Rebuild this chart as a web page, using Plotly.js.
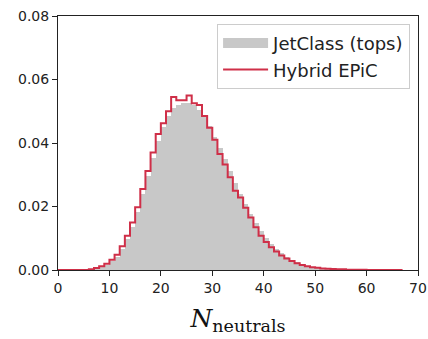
<!DOCTYPE html>
<html>
<head>
<meta charset="utf-8">
<script src="https://cdn.plot.ly/plotly-3.0.1.min.js"></script>
<style>html,body{margin:0;padding:0;background:#fff;}#chart{width:428px;height:339px;}</style>
</head>
<body>
<div id="chart"></div>
<script>
// Histogram bins: [k, k+1) for k = 0..66 (N_neutrals), densities
const binStart = 0;
const binWidth = 1;
const jetClassTops = [
  0, 0, 0, 0, 0, 0, 0.0001, 0.0004, 0.0009, 0.0016,
  0.0027, 0.0042, 0.0066, 0.0097, 0.0137, 0.0184, 0.0238, 0.0295, 0.0352, 0.0405,
  0.0450, 0.0485, 0.0510, 0.0520, 0.0527, 0.0525, 0.0520, 0.0505, 0.0485, 0.0455,
  0.0420, 0.0385, 0.0350, 0.0312, 0.0275, 0.0240, 0.0207, 0.0177, 0.0148, 0.0122,
  0.0100, 0.0081, 0.0065, 0.0052, 0.0041, 0.0032, 0.0025, 0.0019, 0.0014, 0.0011,
  0.0008, 0.0006, 0.0004, 0.0003, 0.0002, 0.0002, 0.0001, 0.0001, 0.0001, 0.0001,
  0, 0, 0, 0, 0, 0, 0
];
const hybridEPiC = [
  0, 0, 0, 0, 0, 0, 0.0002, 0.0006, 0.0012, 0.0020,
  0.0032, 0.0048, 0.0075, 0.0108, 0.0150, 0.0198, 0.0255, 0.0312, 0.0370, 0.0428,
  0.0462, 0.0500, 0.0545, 0.0535, 0.0535, 0.0550, 0.0525, 0.0520, 0.0485, 0.0448,
  0.0410, 0.0365, 0.0332, 0.0292, 0.0250, 0.0228, 0.0196, 0.0165, 0.0135, 0.0108,
  0.0088, 0.0072, 0.0058, 0.0046, 0.0036, 0.0028, 0.0021, 0.0016, 0.0012, 0.0009,
  0.0007, 0.0005, 0.0004, 0.0003, 0.0002, 0.0002, 0.0001, 0.0001, 0.0001, 0.0001,
  0, 0, 0, 0, 0, 0, 0
];
const seriesNames = ["JetClass (tops)", "Hybrid EPiC"];
const xTicks = [0, 10, 20, 30, 40, 50, 60, 70];
const yTicks = [0, 0.02, 0.04, 0.06, 0.08];

const grayColor = "#c8c8c8";
const redColor = "#cf2f48";

const centers = jetClassTops.map((_, i) => binStart + (i + 0.5) * binWidth);
const edges = hybridEPiC.map((_, i) => binStart + i * binWidth);
edges.push(binStart + hybridEPiC.length * binWidth);
const stepY = hybridEPiC.concat([hybridEPiC[hybridEPiC.length - 1]]);

const traces = [
  {
    type: "bar", x: centers, y: jetClassTops, width: binWidth,
    name: seriesNames[0], showlegend: false,
    marker: {color: grayColor, line: {width: 0}},
    hoverinfo: "skip"
  },
  // legend-only entry so the patch is drawn as a wide block like matplotlib's
  {
    type: "scatter", mode: "lines", x: [null], y: [null],
    name: seriesNames[0], legendrank: 1,
    line: {color: grayColor, width: 10},
    hoverinfo: "skip"
  },
  {
    type: "scatter", mode: "lines", x: edges, y: stepY,
    name: seriesNames[1], legendrank: 2,
    line: {color: redColor, width: 2, shape: "hv"},
    hoverinfo: "skip"
  }
];

const axisCommon = {
  showgrid: false, zeroline: false,
  showline: true, linecolor: "#222", linewidth: 1, mirror: true,
  ticks: "outside", ticklen: 5, tickwidth: 1, tickcolor: "#222",
  tickfont: {family: "DejaVu Sans", size: 14, color: "#222"}
};

const layout = {
  width: 428, height: 339,
  margin: {l: 58, r: 10, t: 16, b: 69},
  paper_bgcolor: "#fff", plot_bgcolor: "#fff",
  bargap: 0,
  showlegend: true,
  legend: {
    x: 0.978, xanchor: "right", y: 0.969, yanchor: "top",
    bgcolor: "rgba(255,255,255,0.8)", bordercolor: "#cccccc", borderwidth: 1,
    font: {family: "DejaVu Sans", size: 18, color: "#222"},
    itemwidth: 45, tracegroupgap: 0
  },
  xaxis: Object.assign({}, axisCommon, {
    range: [0, 70], tickvals: xTicks, ticktext: xTicks.map(String),
    title: {text: "<i>N</i><sub>neutrals</sub>", font: {family: "DejaVu Serif", size: 25, color: "#111"}, standoff: 14}
  }),
  yaxis: Object.assign({}, axisCommon, {
    range: [0, 0.08], tickvals: yTicks, ticktext: yTicks.map(v => v.toFixed(2))
  })
};

Plotly.newPlot("chart", traces, layout, {displayModeBar: false, staticPlot: true});
</script>
</body>
</html>
